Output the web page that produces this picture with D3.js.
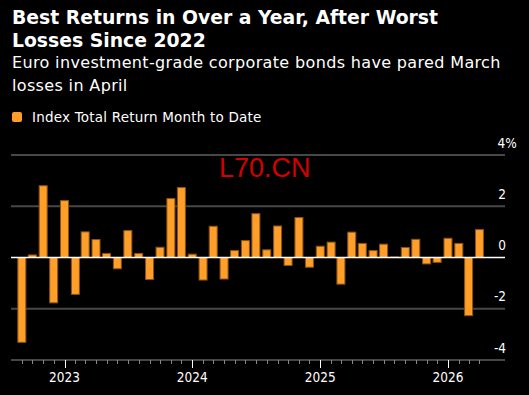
<!DOCTYPE html>
<html>
<head>
<meta charset="utf-8">
<script src="https://cdn.jsdelivr.net/npm/d3@7"></script>
<style>
  body { margin: 0; background: #000; }
  svg { display: block; }
</style>
</head>
<body>
<svg id="chart" width="529" height="395"></svg>
<script>
// Monthly bars, Sep 2022 .. Apr 2026 (month-to-date for April)
const startMonth = "2022-09";
const returns = [
  -3.31, 0.10, 2.80, -1.77,
  2.22, -1.44, 1.00, 0.70, 0.16, -0.44, 1.05, 0.16, -0.86, 0.40, 2.30, 2.73,
  0.13, -0.88, 1.22, -0.84, 0.27, 0.66, 1.71, 0.30, 1.23, -0.31, 1.56, -0.38,
  0.44, 0.60, -1.04, 0.99, 0.55, 0.27, 0.52, 0.02, 0.39, 0.71, -0.25, -0.19,
  0.75, 0.55, -2.27, 1.09
];
const yTicks = [4, 2, 0, -2, -4];
const yearTicks = ["2023", "2024", "2025", "2026"];

const parseMonth = d3.timeParse("%Y-%m");
const months = returns.map((v, i) => d3.timeMonth.offset(parseMonth(startMonth), i));
const data = months.map((m, i) => ({date: m, value: returns[i]}));

// Set up sizing constants
const plotLeft = 11;
const plotRight = 505;
const plotTop = 155;
const plotBottom = 360;
const barWidth = 8;

const svg = d3.select("svg#chart");
svg.append("rect").attr("width", 529).attr("height", 395).attr("fill", "#000");

// Titles
const titleFont = "'DejaVu Sans', Verdana, sans-serif";
svg.append("text").attr("x", 12).attr("y", 24)
  .attr("fill", "#fff").attr("font-family", titleFont).attr("font-weight", "bold")
  .attr("font-size", 18.8).text("Best Returns in Over a Year, After Worst");
svg.append("text").attr("x", 12).attr("y", 47)
  .attr("fill", "#fff").attr("font-family", titleFont).attr("font-weight", "bold")
  .attr("font-size", 18.8).text("Losses Since 2022");

const subFont = "'DejaVu Sans', sans-serif";
const axisFont = "'DejaVu Sans Condensed', 'DejaVu Sans', sans-serif";
svg.append("text").attr("x", 12).attr("y", 68)
  .attr("fill", "#fff").attr("font-family", subFont).attr("letter-spacing", 0.35)
  .attr("font-size", 16).text("Euro investment-grade corporate bonds have pared March");
svg.append("text").attr("x", 12).attr("y", 91)
  .attr("fill", "#fff").attr("font-family", subFont).attr("letter-spacing", 0.35)
  .attr("font-size", 16).text("losses in April");

// Legend
svg.append("rect").attr("x", 12).attr("y", 112).attr("width", 10).attr("height", 10)
  .attr("rx", 2).attr("fill", "#ff9f2a");
svg.append("text").attr("x", 32).attr("y", 121.5)
  .attr("fill", "#fff").attr("font-family", subFont).attr("letter-spacing", 0.2)
  .attr("font-size", 13.5).text("Index Total Return Month to Date");

// Scales
const xScale = d3.scaleTime()
  .domain([new Date(2022, 7, 1), new Date(2026, 5, 13)])
  .range([plotLeft, plotRight]);

const yScale = d3.scaleLinear()
  .domain([-4, 4])
  .range([plotBottom, plotTop]);

// Gridlines
svg.append("g").selectAll("line.grid")
  .data(yTicks.filter(d => d !== 0 && d !== -4))
  .enter()
  .append("line")
  .attr("class", "grid")
  .attr("x1", plotLeft).attr("x2", plotRight)
  .attr("y1", d => yScale(d)).attr("y2", d => yScale(d))
  .attr("stroke", "#474747").attr("stroke-width", 2);

// Watermark
svg.append("text").attr("x", 219).attr("y", 177)
  .attr("fill", "#d40000").attr("font-family", "'Liberation Sans', Arial, sans-serif")
  .attr("font-size", 27).text("L70.CN");

// Bars
svg.append("g").selectAll("rect.bars")
  .data(data)
  .enter()
  .append("rect")
  .attr("class", "bars")
  .attr("x", d => xScale(d.date) - barWidth / 2)
  .attr("y", d => yScale(Math.max(0, d.value)))
  .attr("width", barWidth)
  .attr("height", d => Math.abs(yScale(d.value) - yScale(0)))
  .style("fill", "#ff9f2a")
  .style("stroke", "#8a5312")
  .style("stroke-width", "1px");

// Zero line
svg.append("line")
  .attr("x1", plotLeft).attr("x2", plotRight)
  .attr("y1", yScale(0)).attr("y2", yScale(0))
  .attr("stroke", "#fff").attr("stroke-width", 1.5);

// Bottom axis
const xAxisG = svg.append("g").attr("transform", "translate(0," + plotBottom + ")");
xAxisG.append("line").attr("x1", plotLeft).attr("x2", plotRight)
  .attr("stroke", "#474747").attr("stroke-width", 2);
xAxisG.selectAll("line.minor")
  .data(months)
  .enter()
  .append("line")
  .attr("class", "minor")
  .attr("x1", d => Math.round(xScale(d)) + 0.5).attr("x2", d => Math.round(xScale(d)) + 0.5)
  .attr("y1", 0).attr("y2", d => d.getMonth() === 0 ? 8 : 4)
  .attr("stroke", d => d.getMonth() === 0 ? "#fff" : "#888")
  .attr("stroke-width", 1);
xAxisG.selectAll("text.year")
  .data(yearTicks)
  .enter()
  .append("text")
  .attr("class", "year")
  .attr("x", d => xScale(new Date(+d, 0, 1)))
  .attr("y", 22)
  .attr("text-anchor", "middle")
  .attr("fill", "#fff")
  .attr("font-family", axisFont)
  .attr("font-size", 13.5)
  .text(d => d);

// Right axis labels
svg.append("g").selectAll("text.ylab")
  .data(yTicks)
  .enter()
  .append("text")
  .attr("class", "ylab")
  .attr("x", d => d === 4 ? 497.5 : 506)
  .attr("y", d => yScale(d) - 7.5)
  .attr("text-anchor", d => d === 4 ? "start" : "end")
  .attr("fill", "#fff")
  .attr("font-family", axisFont)
  .attr("font-size", 13.5)
  .text(d => d === 4 ? "4%" : (d < 0 ? "-" + Math.abs(d) : d));
</script>
</body>
</html>
